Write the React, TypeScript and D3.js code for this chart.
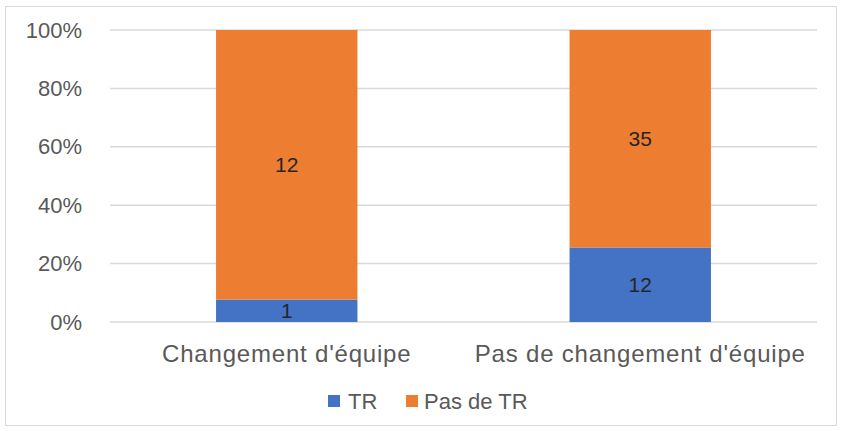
import * as d3 from 'd3';

const categories = ["Changement d'équipe", "Pas de changement d'équipe"];
const seriesNames = ['TR', 'Pas de TR'];
const tr = [1, 12];
const pasDeTr = [12, 35];
const yTicks = [0, 0.2, 0.4, 0.6, 0.8, 1];
const colors = ['#4472C4', '#ED7D31'];

const width = 842;
const height = 431;
const font = '"Liberation Sans", Arial, sans-serif';

export default function App() {
  const rows = categories.map((c, i) => ({ cat: c, TR: tr[i], 'Pas de TR': pasDeTr[i] }));
  const stacked = d3
    .stack<any>()
    .keys(seriesNames)
    .offset(d3.stackOffsetExpand)(rows);

  const x = d3.scaleBand().domain(categories).range([110, 817]).padding(0);
  const y = d3.scaleLinear().domain([0, 1]).range([322, 30]);
  const barW = x.bandwidth() * 0.4;

  const legendX = 328;
  const legendY = 400;

  return (
    <svg
      width={width}
      height={height}
      style={{ position: 'absolute', left: 0, top: 0, background: '#fff' }}
      fontFamily={font}
    >
      <rect x={5.5} y={6.5} width={831} height={419} fill="#fff" stroke="#d9d9d9" />
      {yTicks.map((t) => (
        <g key={t}>
          <line x1={110} x2={817} y1={y(t)} y2={y(t)} stroke="#d9d9d9" strokeWidth={1.5} />
          <text
            x={82}
            y={y(t)}
            textAnchor="end"
            dominantBaseline="central"
            fontSize={22}
            fill="#595959"
          >
            {d3.format('.0%')(t)}
          </text>
        </g>
      ))}
      {stacked.map((s, si) => (
        <g key={s.key}>
          {s.map((d, i) => {
            const cx = (x(categories[i]) as number) + x.bandwidth() / 2;
            const val = si === 0 ? tr[i] : pasDeTr[i];
            return (
              <g key={i}>
                <rect
                  x={cx - barW / 2}
                  y={y(d[1])}
                  width={barW}
                  height={y(d[0]) - y(d[1])}
                  fill={colors[si]}
                />
                <text
                  x={cx}
                  y={(y(d[0]) + y(d[1])) / 2}
                  textAnchor="middle"
                  dominantBaseline="central"
                  fontSize={21}
                  fill="#262626"
                >
                  {val}
                </text>
              </g>
            );
          })}
        </g>
      ))}
      {categories.map((c) => (
        <text
          key={c}
          x={(x(c) as number) + x.bandwidth() / 2}
          y={362}
          textAnchor="middle"
          fontSize={24}
          letterSpacing={0.8}
          fill="#595959"
        >
          {c}
        </text>
      ))}
      <g transform={`translate(${legendX},${legendY})`}>
        <rect x={0} y={-5} width={12} height={12} fill={colors[0]} />
        <text x={20} y={1} dominantBaseline="central" fontSize={22} fill="#595959">
          {seriesNames[0]}
        </text>
        <rect x={78} y={-5} width={12} height={12} fill={colors[1]} />
        <text x={96} y={1} dominantBaseline="central" fontSize={22} fill="#595959">
          {seriesNames[1]}
        </text>
      </g>
    </svg>
  );
}
